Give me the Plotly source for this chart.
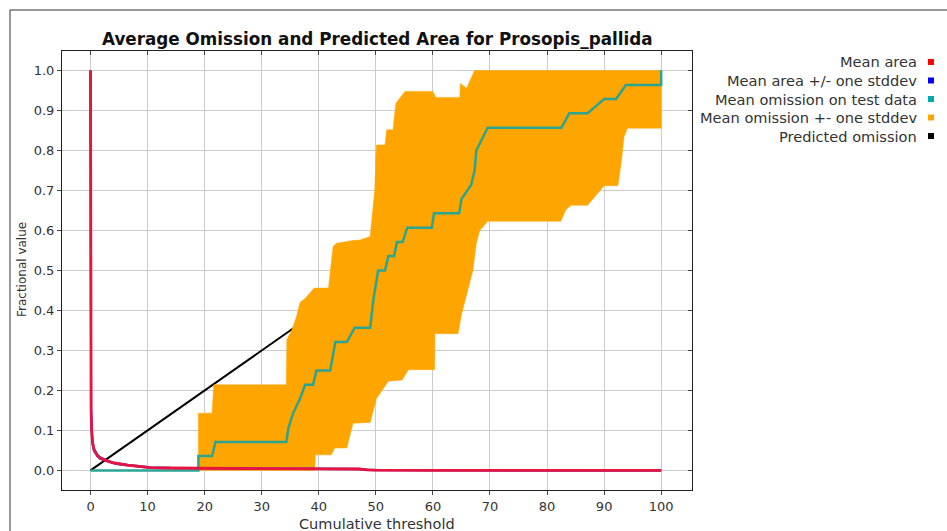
import plotly.graph_objects as go

# ---------------- data ----------------
# Mean area (red) and +/- one stddev (blue)
area_x = [0, 0.02, 0.05, 0.1, 0.2, 0.35, 0.6, 0.9, 1.2, 1.7, 2.3, 3, 4, 5, 6.5, 8.5, 10.5, 14, 19, 25, 30, 40, 47, 48.5, 50, 60, 100]
area_y = [1.0, 0.5, 0.2, 0.15, 0.1, 0.07, 0.052, 0.043, 0.037, 0.031, 0.027, 0.023, 0.019, 0.016, 0.013, 0.01, 0.007, 0.006, 0.005, 0.005, 0.0045, 0.004, 0.0035, 0.0015, 0.0005, 0.0002, 0]
area_hi = [1.0, 0.52, 0.21, 0.16, 0.105, 0.074, 0.055, 0.045, 0.039, 0.033, 0.028, 0.024, 0.02, 0.017, 0.014, 0.011, 0.008, 0.0065, 0.0055, 0.0055, 0.005, 0.0045, 0.004, 0.002, 0.0008, 0.0003, 0]
area_lo = [1.0, 0.48, 0.19, 0.14, 0.095, 0.066, 0.049, 0.041, 0.035, 0.029, 0.026, 0.022, 0.018, 0.015, 0.012, 0.009, 0.006, 0.0055, 0.0045, 0.0045, 0.004, 0.0035, 0.003, 0.001, 0.0002, 0.0001, 0]

# Mean omission on test data (teal)
om_x = [0, 18.9, 18.9, 21.3, 21.9, 34.3, 34.7, 35.5, 36.7, 37.6, 39.0, 39.6, 42.0, 42.9, 44.9, 46.3, 49.0, 49.6, 50.4, 51.6, 52.2, 53.2, 53.7, 54.7, 55.5, 59.8, 60.2, 64.6, 65.0, 66.7, 67.3, 67.6, 69.6, 82.5, 83.9, 87.1, 90.0, 92.1, 93.8, 100.0, 100.0]
om_y = [0, 0, 0.036, 0.036, 0.071, 0.071, 0.107, 0.143, 0.179, 0.214, 0.214, 0.25, 0.25, 0.321, 0.321, 0.357, 0.357, 0.43, 0.5, 0.5, 0.536, 0.536, 0.571, 0.571, 0.607, 0.607, 0.643, 0.643, 0.679, 0.714, 0.75, 0.80, 0.857, 0.857, 0.893, 0.893, 0.929, 0.929, 0.964, 0.964, 1.0]

# Mean omission +- one stddev (orange band): upper and lower bounds
up_x = [18.9, 18.9, 21.3, 21.6, 34.3, 34.4, 35.3, 36.1, 36.7, 37.6, 39.2, 41.7, 42.5, 43.1, 46.0, 47.2, 49.0, 49.8, 50.1, 51.6, 51.9, 53.0, 53.5, 55.1, 60.0, 60.5, 64.7, 64.8, 65.9, 67.3, 100.0]
up_y = [0, 0.143, 0.143, 0.214, 0.214, 0.327, 0.352, 0.385, 0.42, 0.43, 0.456, 0.456, 0.56, 0.568, 0.575, 0.576, 0.585, 0.70, 0.814, 0.814, 0.852, 0.852, 0.918, 0.948, 0.948, 0.933, 0.933, 0.968, 0.956, 1.0, 1.0]
lo_x = [18.9, 39.3, 39.4, 42.2, 42.8, 44.9, 46.0, 49.0, 50.1, 52.2, 54.6, 55.7, 60.3, 60.35, 64.4, 65.0, 65.9, 67.0, 67.6, 68.2, 69.6, 82.4, 83.3, 84.2, 87.1, 88.6, 90.0, 92.4, 93.0, 93.5, 94.1, 100.0]
lo_y = [0, 0, 0.039, 0.039, 0.056, 0.056, 0.118, 0.12, 0.18, 0.223, 0.226, 0.252, 0.252, 0.342, 0.342, 0.39, 0.44, 0.50, 0.568, 0.60, 0.623, 0.623, 0.652, 0.663, 0.663, 0.689, 0.712, 0.712, 0.77, 0.835, 0.856, 0.856]

# Predicted omission (black)
pred_x = [0, 100]
pred_y = [0, 1]

x_ticks = [0, 10, 20, 30, 40, 50, 60, 70, 80, 90, 100]
y_ticks = [0.0, 0.1, 0.2, 0.3, 0.4, 0.5, 0.6, 0.7, 0.8, 0.9, 1.0]
y_ticktext = ["0.0", "0.1", "0.2", "0.3", "0.4", "0.5", "0.6", "0.7", "0.8", "0.9", "1.0"]

legend_names = ["Mean area", "Mean area +/- one stddev", "Mean omission on test data",
                "Mean omission +- one stddev", "Predicted omission"]
legend_colors = ["#ff0000", "#0000ff", "#00aaaa", "#ffa500", "#000000"]

title = "Average Omission and Predicted Area for Prosopis_pallida"

# ---------------- figure ----------------
W, H = 947, 531
ML, MR, MT, MB = 62, 255, 51, 41
PW, PH = W - ML - MR, H - MT - MB

def px(x):
    return (x - ML) / PW

def py(y):
    return (H - MB - y) / PH

FONT = "DejaVu Sans"
fig = go.Figure()

fig.add_trace(go.Scatter(x=pred_x, y=pred_y, mode="lines",
                         line=dict(color="#000000", width=2), hoverinfo="skip"))
band_x = up_x + lo_x[::-1]
band_y = up_y + lo_y[::-1]
fig.add_trace(go.Scatter(x=band_x, y=band_y, mode="lines", fill="toself",
                         fillcolor="#ffa500", line=dict(color="#ffa500", width=0.5),
                         hoverinfo="skip"))
fig.add_trace(go.Scatter(x=om_x, y=om_y, mode="lines",
                         line=dict(color="#2aa592", width=2.5), hoverinfo="skip"))
fig.add_trace(go.Scatter(x=area_x, y=area_hi, mode="lines",
                         line=dict(color="#3030d0", width=2), hoverinfo="skip"))
fig.add_trace(go.Scatter(x=area_x, y=area_lo, mode="lines",
                         line=dict(color="#3030d0", width=2), hoverinfo="skip"))
fig.add_trace(go.Scatter(x=area_x, y=area_y, mode="lines",
                         line=dict(color="#e8143f", width=2.8), hoverinfo="skip"))
# dummy trace for mirrored inner ticks axes
fig.add_trace(go.Scatter(x=[None], y=[None], xaxis="x2", yaxis="y2", hoverinfo="skip"))

axis_font = dict(family=FONT, size=13, color="#333333")
fig.update_layout(
    width=W, height=H,
    margin=dict(l=ML, r=MR, t=MT, b=MB),
    paper_bgcolor="white", plot_bgcolor="white",
    showlegend=False,
    xaxis=dict(range=[-5, 105.4], tickvals=x_ticks, ticks="outside", ticklen=4,
               tickcolor="#444444", showgrid=True, gridcolor="#cccccc", gridwidth=1,
               showline=True, linecolor="#222222", linewidth=1, zeroline=False,
               tickfont=axis_font),
    yaxis=dict(range=[-0.049, 1.049], tickvals=y_ticks, ticktext=y_ticktext,
               ticks="outside", ticklen=4, tickcolor="#444444", showgrid=True,
               gridcolor="#cccccc", gridwidth=1, showline=True, linecolor="#222222",
               linewidth=1, zeroline=False, tickfont=axis_font),
    xaxis2=dict(overlaying="x", side="top", range=[-5, 105.4], tickvals=x_ticks,
                ticks="inside", ticklen=4, tickcolor="#444444", showticklabels=False,
                showgrid=False, showline=True, linecolor="#222222", zeroline=False),
    yaxis2=dict(overlaying="y", side="right", range=[-0.049, 1.049], tickvals=y_ticks,
                ticks="inside", ticklen=4, tickcolor="#444444", showticklabels=False,
                showgrid=False, showline=True, linecolor="#222222", zeroline=False),
)

annotations = [
    dict(text="<b>" + title + "</b>", x=0.5, xref="paper", y=py(38.5), yref="paper",
         xanchor="center", yanchor="middle", showarrow=False,
         font=dict(family=FONT, size=16.8, color="#111111")),
    dict(text="Cumulative threshold", x=0.5, xref="paper", y=py(524), yref="paper",
         xanchor="center", yanchor="middle", showarrow=False,
         font=dict(family=FONT, size=14.5, color="#333333")),
    dict(text="Fractional value", x=px(22), xref="paper", y=py(270), yref="paper",
         xanchor="center", yanchor="middle", showarrow=False, textangle=-90,
         font=dict(family=FONT, size=12, color="#333333")),
]
shapes = [
    dict(type="rect", xref="paper", yref="paper", x0=px(10), y0=py(560), x1=px(1000), y1=py(10),
         line=dict(color="#333333", width=1), fillcolor="rgba(0,0,0,0)", layer="below"),
]
leg_y = [62, 80.5, 99, 117.5, 136]
for name, col, yy in zip(legend_names, legend_colors, leg_y):
    annotations.append(dict(text=name, x=px(919), xref="paper", y=py(yy), yref="paper",
                            xanchor="right", yanchor="middle", showarrow=False,
                            font=dict(family=FONT, size=14.6, color="#333333")))
    shapes.append(dict(type="rect", xref="paper", yref="paper",
                       x0=px(928), x1=px(934), y0=py(yy + 3), y1=py(yy - 3),
                       line=dict(width=0), fillcolor=col))

fig.update_layout(annotations=annotations, shapes=shapes)
fig.write_html("out.html")
